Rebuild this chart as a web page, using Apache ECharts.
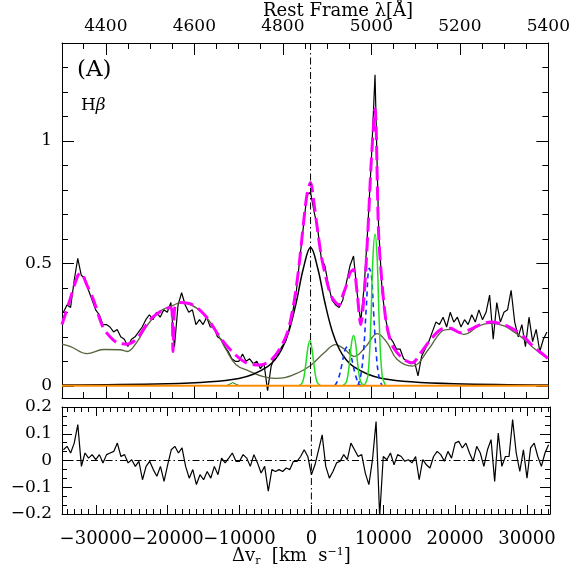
<!DOCTYPE html>
<html>
<head>
<meta charset="utf-8">
<script src="https://cdn.jsdelivr.net/npm/echarts@6.0.0/dist/echarts.min.js"></script>
<style>
  html, body { margin: 0; padding: 0; background: #fff; }
  #chart { width: 573px; height: 577px; }
</style>
</head>
<body>
<div id="chart"></div>
<script>
// velocity range of the plot (km/s) and matching rest-frame wavelength range (A)
var vMin = -34700, vMax = 33200;
var lamMin = 4301, lamMax = 5400;

// spectrum and residuals sampled every 500 km/s starting at -34500
var specStart = -34500, specStep = 500;
var specFlux = [
  0.30, 0.33, 0.32, 0.43, 0.52, 0.45, 0.44, 0.39, 0.35, 0.31,
  0.29, 0.25, 0.25, 0.24, 0.22, 0.23, 0.20, 0.19, 0.16, 0.19,
  0.20, 0.22, 0.24, 0.27, 0.29, 0.27, 0.30, 0.28, 0.31, 0.30,
  0.34, 0.16, 0.33, 0.38, 0.33, 0.30, 0.31, 0.25, 0.27, 0.25,
  0.28, 0.24, 0.24, 0.20, 0.19, 0.16, 0.14, 0.11, 0.10, 0.10,
  0.13, 0.10, 0.11, 0.09, 0.10, 0.07, 0.09, -0.02, 0.08, 0.12,
  0.13, 0.16, 0.18, 0.23, 0.30, 0.38, 0.52, 0.65, 0.78, 0.79,
  0.71, 0.64, 0.52, 0.49, 0.41, 0.35, 0.33, 0.32, 0.35, 0.42,
  0.49, 0.53, 0.38, 0.26, 0.41, 0.65, 0.93, 1.27, 0.65, 0.38,
  0.27, 0.20, 0.18, 0.15, 0.15, 0.11, 0.10, 0.09, 0.10, 0.04,
  0.12, 0.15, 0.18, 0.22, 0.26, 0.25, 0.28, 0.24, 0.30, 0.26,
  0.28, 0.24, 0.27, 0.25, 0.29, 0.26, 0.31, 0.27, 0.30, 0.37,
  0.19, 0.34, 0.26, 0.30, 0.31, 0.39, 0.26, 0.20, 0.25, 0.16,
  0.28, 0.18, 0.23, 0.14, 0.19, 0.22
];
var residual = [
  0.040, 0.053, 0.028, 0.065, 0.134, -0.022, 0.028, 0.009, 0.022, 0.003,
  0.022, -0.009, 0.022, 0.028, 0.034, 0.065, 0.015, 0.022, -0.009, 0.003,
  -0.022, -0.003, -0.072, -0.022, -0.003, -0.034, -0.059, -0.022, -0.078, -0.016,
  0.040, 0.053, 0.028, 0.047, -0.022, -0.066, -0.034, -0.090, -0.053, -0.072,
  -0.041, -0.066, -0.022, -0.053, 0.009, -0.009, 0.009, 0.028, -0.003, -0.003,
  0.022, 0.009, -0.022, 0.022, -0.009, -0.047, -0.022, -0.115, -0.034, -0.041,
  -0.034, -0.041, -0.028, -0.034, -0.003, -0.003, 0.015, 0.040, 0.015, -0.053,
  -0.016, 0.040, 0.096, -0.022, -0.066, -0.041, -0.009, -0.003, 0.022, 0.003,
  0.065, 0.040, 0.015, 0.022, -0.047, -0.090, 0.003, 0.146, -0.210, 0.015,
  0.003, 0.028, -0.016, 0.022, 0.015, -0.003, 0.003, -0.009, 0.015, -0.072,
  0.003, -0.016, -0.028, 0.015, 0.034, 0.022, -0.003, 0.034, 0.009, 0.065,
  0.072, 0.047, 0.065, 0.028, -0.003, 0.053, 0.028, -0.022, 0.040, 0.078,
  -0.078, 0.103, -0.022, 0.015, 0.015, 0.153, 0.028, -0.041, 0.040, -0.066,
  0.047, 0.065, 0.015, -0.022, 0.028, 0.059
];

// model components, [velocity, flux]
var fitTotal = [
  [-34700, 0.25], [-33500, 0.36], [-32500, 0.45], [-32100, 0.46], [-31200, 0.41],
  [-30300, 0.35], [-29000, 0.24], [-28000, 0.20], [-27000, 0.176], [-25700, 0.17],
  [-24300, 0.19], [-22400, 0.27], [-20600, 0.31], [-19450, 0.32], [-19200, 0.14],
  [-18950, 0.32], [-18200, 0.34], [-16400, 0.33], [-14500, 0.28], [-12700, 0.20],
  [-10800, 0.135], [-9000, 0.094], [-7100, 0.085], [-5700, 0.10], [-4300, 0.15],
  [-3200, 0.22], [-2500, 0.31], [-2000, 0.40], [-1500, 0.52], [-1000, 0.66],
  [-500, 0.78], [0, 0.83], [500, 0.74], [1000, 0.63], [1500, 0.53],
  [2000, 0.46], [2500, 0.40], [3000, 0.36], [3500, 0.34], [4000, 0.33],
  [4500, 0.37], [5000, 0.41], [5500, 0.46], [6000, 0.475], [6500, 0.38],
  [7000, 0.25], [7500, 0.38], [8000, 0.63], [8500, 0.93], [9000, 1.13],
  [9500, 0.62], [10000, 0.41], [10500, 0.27], [11000, 0.20], [11700, 0.15],
  [13050, 0.107], [14200, 0.094], [15400, 0.135], [16800, 0.19], [18200, 0.23],
  [19500, 0.235], [20900, 0.217], [22300, 0.23], [23700, 0.25], [25100, 0.26],
  [27000, 0.25], [28400, 0.23], [29800, 0.20], [31100, 0.16], [32500, 0.127],
  [33200, 0.11]
];
var feII = [
  [-34700, 0.17], [-33500, 0.16], [-31200, 0.131], [-28900, 0.148], [-26600, 0.147],
  [-25600, 0.14], [-24300, 0.176], [-22900, 0.243], [-21000, 0.305], [-19200, 0.328],
  [-18200, 0.339], [-15900, 0.317], [-13600, 0.243], [-11800, 0.148], [-10400, 0.086],
  [-8500, 0.059], [-6700, 0.038], [-5000, 0.03], [-3600, 0.033], [-1800, 0.052],
  [0, 0.083], [1900, 0.135], [3500, 0.168], [4700, 0.15], [6100, 0.12],
  [7700, 0.16], [9300, 0.213], [10700, 0.175], [12100, 0.107], [14200, 0.08],
  [16500, 0.15], [18200, 0.22], [19500, 0.23], [21400, 0.21], [23500, 0.245],
  [25100, 0.255], [27000, 0.245], [28400, 0.22], [29800, 0.19], [31100, 0.155],
  [32500, 0.124], [33200, 0.115]
];
var broadHb = [
  [-34700, 0.003], [-20000, 0.008], [-14000, 0.016], [-10000, 0.03], [-8000, 0.047],
  [-6000, 0.078], [-5000, 0.105], [-4000, 0.15], [-3000, 0.225], [-2000, 0.34],
  [-1000, 0.48], [0, 0.565], [1000, 0.48], [2000, 0.34], [3000, 0.225],
  [4000, 0.15], [5000, 0.105], [6000, 0.078], [8000, 0.047], [10000, 0.03],
  [14000, 0.016], [20000, 0.008], [33200, 0.003]
];
var narrowHb = [[-1600, 0], [-1100, 0.015], [-700, 0.08], [-400, 0.15], [-100, 0.185], [200, 0.15], [500, 0.08], [900, 0.015], [1400, 0]];
var narrow4959 = [[4500, 0], [5000, 0.015], [5400, 0.085], [5700, 0.17], [6000, 0.205], [6300, 0.17], [6600, 0.085], [7000, 0.015], [7500, 0]];
var narrow5007 = [[7500, 0], [8000, 0.04], [8400, 0.25], [8700, 0.52], [9000, 0.62], [9300, 0.52], [9600, 0.25], [10000, 0.04], [10500, 0]];
var wing4959 = [[3400, 0], [3900, 0.03], [4400, 0.09], [4800, 0.145], [5150, 0.16], [5500, 0.14], [5900, 0.09], [6300, 0.04], [6800, 0.005], [7200, 0]];
var wing5007 = [[6600, 0], [7000, 0.04], [7400, 0.14], [7800, 0.33], [8200, 0.48], [8500, 0.45], [8800, 0.3], [9200, 0.12], [9600, 0.03], [10000, 0]];
var heII = [[-11800, 0], [-11300, 0.006], [-10850, 0.013], [-10400, 0.006], [-9900, 0]];
var continuum = [[vMin, 0], [vMax, 0]];

var spectrum = specFlux.map(function (f, i) { return [specStart + i * specStep, f]; });
var resid = residual.map(function (f, i) { return [specStart + i * specStep, f]; });

var FONT = 'DejaVu Serif';
function fmtMinus(v) { return String(v).replace('-', '\u2212'); }

function frameAxis(o) {
  var a = {
    type: 'value',
    axisLine: { show: true, onZero: false, lineStyle: { color: '#000', width: 1 } },
    axisTick: { show: true, inside: true, length: 12, lineStyle: { color: '#000' } },
    minorTick: { show: true, length: 6, lineStyle: { color: '#000' } },
    splitLine: { show: false },
    axisLabel: { show: false }
  };
  for (var k in o) {
    if (typeof o[k] === 'object' && a[k] && !Array.isArray(o[k])) {
      for (var j in o[k]) a[k][j] = o[k][j];
    } else a[k] = o[k];
  }
  return a;
}
var lbl = { show: true, color: '#000', fontFamily: FONT, fontSize: 17, formatter: fmtMinus,
  showMinLabel: false, showMaxLabel: false };

var myChart = echarts.init(document.getElementById('chart'));

var option = {
  backgroundColor: '#fff',
  animation: false,
  grid: [
    { left: 62, top: 43, width: 488, height: 355 },
    { left: 62, top: 407, width: 488, height: 107 }
  ],
  xAxis: [
    { type: 'value', gridIndex: 0, min: vMin, max: vMax, show: false },
    frameAxis({ gridIndex: 0, position: 'top', min: lamMin, max: lamMax, minInterval: 200, maxInterval: 200,
      minorTick: { splitNumber: 4 },
      axisLabel: Object.assign({}, lbl, { margin: 8, showMaxLabel: true }) }),
    frameAxis({ gridIndex: 0, position: 'bottom', min: lamMin, max: lamMax, minInterval: 200, maxInterval: 200,
      minorTick: { splitNumber: 4 } }),
    frameAxis({ gridIndex: 1, position: 'bottom', min: vMin, max: vMax, minInterval: 10000, maxInterval: 10000,
      axisTick: { length: 9 }, minorTick: { splitNumber: 10, length: 5 },
      axisLabel: Object.assign({}, lbl, { margin: 16, fontSize: 18 }) }),
    frameAxis({ gridIndex: 1, position: 'top', min: vMin, max: vMax, minInterval: 10000, maxInterval: 10000,
      axisTick: { length: 9 }, minorTick: { splitNumber: 10, length: 5 } })
  ],
  yAxis: [
    frameAxis({ gridIndex: 0, position: 'left', min: -0.05, max: 1.4, minInterval: 0.5, maxInterval: 0.5,
      minorTick: { splitNumber: 5 },
      axisLabel: Object.assign({}, lbl, { margin: 10 }) }),
    frameAxis({ gridIndex: 0, position: 'right', min: -0.05, max: 1.4, minInterval: 0.5, maxInterval: 0.5,
      minorTick: { splitNumber: 5 } }),
    frameAxis({ gridIndex: 1, position: 'left', min: -0.2, max: 0.2, interval: 0.1,
      axisTick: { length: 10 }, minorTick: { splitNumber: 3, length: 5 },
      axisLabel: Object.assign({}, lbl, { margin: 10, showMinLabel: true, showMaxLabel: true }) }),
    frameAxis({ gridIndex: 1, position: 'right', min: -0.2, max: 0.2, interval: 0.1,
      axisTick: { length: 10 }, minorTick: { splitNumber: 3, length: 5 } })
  ],
  series: [
    { name: 'spectrum', type: 'line', xAxisIndex: 0, yAxisIndex: 0, data: spectrum, showSymbol: false,
      lineStyle: { color: '#000', width: 1.2 } },
    { name: 'FeII', type: 'line', xAxisIndex: 0, yAxisIndex: 0, data: feII, showSymbol: false, smooth: 0.4,
      lineStyle: { color: '#56643a', width: 1.3 } },
    { name: 'broad Hb', type: 'line', xAxisIndex: 0, yAxisIndex: 0, data: broadHb, showSymbol: false, smooth: 0.4,
      lineStyle: { color: '#000', width: 1.5 } },
    { name: 'OIII wing 4959', type: 'line', xAxisIndex: 0, yAxisIndex: 0, data: wing4959, showSymbol: false, smooth: 0.4,
      lineStyle: { color: '#1030ff', width: 1.6, type: [5, 4] } },
    { name: 'OIII wing 5007', type: 'line', xAxisIndex: 0, yAxisIndex: 0, data: wing5007, showSymbol: false, smooth: 0.4,
      lineStyle: { color: '#1030ff', width: 1.6, type: [5, 4] } },
    { name: 'narrow Hb', type: 'line', xAxisIndex: 0, yAxisIndex: 0, data: narrowHb, showSymbol: false, smooth: 0.4,
      lineStyle: { color: '#22dd22', width: 1.5 } },
    { name: 'OIII 4959', type: 'line', xAxisIndex: 0, yAxisIndex: 0, data: narrow4959, showSymbol: false, smooth: 0.4,
      lineStyle: { color: '#22dd22', width: 1.5 } },
    { name: 'OIII 5007', type: 'line', xAxisIndex: 0, yAxisIndex: 0, data: narrow5007, showSymbol: false, smooth: 0.4,
      lineStyle: { color: '#22dd22', width: 1.5 } },
    { name: 'HeII', type: 'line', xAxisIndex: 0, yAxisIndex: 0, data: heII, showSymbol: false,
      lineStyle: { color: '#008000', width: 1 } },
    { name: 'fit', type: 'line', xAxisIndex: 0, yAxisIndex: 0, data: fitTotal, showSymbol: false, smooth: 0.3,
      lineStyle: { color: '#ff00ff', width: 3, type: [14, 6] } },
    { name: 'continuum', type: 'line', xAxisIndex: 0, yAxisIndex: 0, data: continuum, showSymbol: false,
      lineStyle: { color: '#ff8c00', width: 2 } },
    { name: 'zero v', type: 'line', xAxisIndex: 0, yAxisIndex: 0, data: [[0, -0.05], [0, 1.4]], showSymbol: false,
      lineStyle: { color: '#000', width: 1, type: [7, 3, 1.5, 3] } },
    { name: 'residual', type: 'line', xAxisIndex: 3, yAxisIndex: 2, data: resid, showSymbol: false,
      lineStyle: { color: '#000', width: 1.2 } },
    { name: 'resid zero', type: 'line', xAxisIndex: 3, yAxisIndex: 2, data: [[vMin, 0], [vMax, 0]], showSymbol: false,
      lineStyle: { color: '#000', width: 1, type: [7, 3, 1.5, 3] } },
    { name: 'resid zero v', type: 'line', xAxisIndex: 3, yAxisIndex: 2, data: [[0, -0.2], [0, 0.2]], showSymbol: false,
      lineStyle: { color: '#000', width: 1, type: [7, 3, 1.5, 3] } }
  ],
  graphic: [
    { type: 'text', left: 263, top: 2, style: { text: 'Rest Frame \u03bb[\u00c5]', font: '18px "DejaVu Serif"', fill: '#000' } },
    { type: 'text', left: 77, top: 59, style: { text: '(A)', font: '23px "DejaVu Serif"', fill: '#000' } },
    { type: 'text', left: 81, top: 97, style: {
        text: '{h|H}{b|\u03b2}',
        rich: { h: { font: '17px "DejaVu Serif"', fill: '#000' }, b: { font: 'italic 17px "DejaVu Serif"', fill: '#000' } } } },
    { type: 'text', left: 232, top: 547, style: {
        text: '{a|\u0394v}{s|r}{a|  [km  s}{p|\u22121}{a|]}',
        rich: {
          a: { font: '18px "DejaVu Serif"', fill: '#000' },
          s: { font: '11px "DejaVu Serif"', fill: '#000', padding: [10, 0, 0, 0] },
          p: { font: '11px "DejaVu Serif"', fill: '#000', padding: [0, 0, 8, 0] }
        } } }
  ]
};

myChart.setOption(option);
</script>
</body>
</html>
